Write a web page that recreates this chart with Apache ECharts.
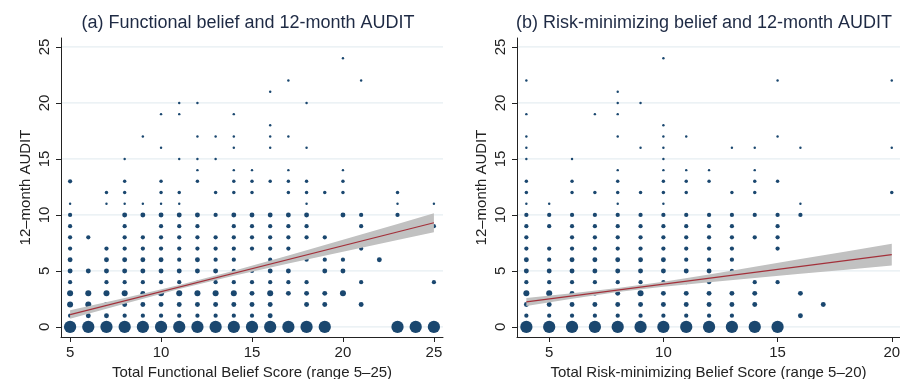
<!DOCTYPE html>
<html>
<head>
<meta charset="utf-8">
<script src="https://cdn.jsdelivr.net/npm/echarts@6/dist/echarts.min.js"></script>
<style>
html,body{margin:0;padding:0;background:#fff;}
#chart{width:900px;height:379px;}
</style>
</head>
<body>
<div id="chart"></div>
<script>
// ---- data: [score, AUDIT, estimated frequency] ----
const functionalPoints = [
 [5,13,3],[5,11,1],[5,10,3],[5,9,3],[5,8,3],[5,7,3],[5,6,4],[5,5,4],[5,4,3],[5,3,6],[5,2,6],[5,1,3],[5,0,25],
 [6,8,3],[6,5,4],[6,3,6],[6,2,6],[6,1,4],[6,0,25],
 [7,12,2],[7,11,1],[7,7,3],[7,6,4],[7,5,4],[7,4,3],[7,3,6],[7,2,4],[7,1,4],[7,0,25],
 [8,15,1],[8,13,2],[8,12,2],[8,11,1],[8,10,4],[8,9,3],[8,8,3],[8,7,3],[8,6,4],[8,5,4],[8,4,3],[8,3,6],[8,2,4],[8,1,3],[8,0,25],
 [9,17,1],[9,11,1],[9,10,4],[9,8,3],[9,7,3],[9,6,4],[9,5,4],[9,4,3],[9,3,4],[9,2,4],[9,1,3],[9,0,25],
 [10,19,1],[10,16,1],[10,13,2],[10,12,2],[10,11,1],[10,10,4],[10,9,3],[10,8,3],[10,7,3],[10,6,4],[10,5,4],[10,4,3],[10,3,6],[10,2,4],[10,1,3],[10,0,25],
 [11,20,1],[11,19,1],[11,15,1],[11,12,2],[11,11,1],[11,10,4],[11,9,3],[11,8,3],[11,7,3],[11,6,3],[11,5,4],[11,4,3],[11,3,6],[11,2,4],[11,1,3],[11,0,25],
 [12,20,1],[12,17,1],[12,15,1],[12,14,1],[12,13,2],[12,10,4],[12,9,3],[12,8,3],[12,7,3],[12,6,4],[12,5,4],[12,4,2],[12,3,6],[12,2,4],[12,1,3],[12,0,25],
 [13,17,1],[13,15,1],[13,12,2],[13,10,3],[13,8,3],[13,7,3],[13,6,3],[13,5,4],[13,4,3],[13,3,6],[13,2,4],[13,1,3],[13,0,25],
 [14,19,1],[14,17,1],[14,16,1],[14,14,1],[14,13,2],[14,12,2],[14,10,4],[14,9,3],[14,8,3],[14,7,3],[14,6,3],[14,5,3],[14,4,3],[14,3,6],[14,2,4],[14,1,3],[14,0,25],
 [15,14,1],[15,13,2],[15,12,2],[15,10,4],[15,9,3],[15,8,3],[15,7,3],[15,5,3],[15,4,3],[15,3,4],[15,2,4],[15,1,3],[15,0,25],
 [16,21,1],[16,18,1],[16,17,1],[16,16,1],[16,13,2],[16,10,4],[16,9,3],[16,8,3],[16,7,3],[16,6,3],[16,5,4],[16,4,3],[16,3,6],[16,2,4],[16,1,4],[16,0,25],
 [17,22,1],[17,17,1],[17,14,1],[17,13,2],[17,12,2],[17,10,4],[17,9,3],[17,8,3],[17,7,3],[17,5,4],[17,4,3],[17,3,4],[17,0,25],
 [18,20,1],[18,16,1],[18,13,2],[18,12,2],[18,11,1],[18,10,4],[18,9,3],[18,8,3],[18,6,3],[18,4,3],[18,3,4],[18,2,4],[18,0,25],
 [19,12,2],[19,8,3],[19,6,3],[19,5,4],[19,3,4],[19,2,4],[19,0,25],
 [20,24,1],[20,14,1],[20,13,2],[20,12,2],[20,10,4],[20,6,3],[20,5,4],[20,3,6],
 [21,22,1],[21,10,3],[21,9,3],[21,7,3],[21,4,3],[21,2,4],
 [22,6,4],
 [23,12,2],[23,11,1],[23,10,3],[23,0,25],
 [24,0,25],
 [25,11,1],[25,9,3],[25,4,3],[25,0,25]
];
const riskPoints = [
 [4,22,1],[4,19,1],[4,17,1],[4,16,1],[4,15,1],[4,13,2],[4,12,2],[4,11,1],[4,10,3],[4,9,3],[4,8,3],[4,7,3],[4,6,4],[4,5,4],[4,4,3],[4,3,6],[4,2,4],[4,1,3],[4,0,25],
 [5,11,1],[5,10,3],[5,9,3],[5,7,3],[5,6,3],[5,5,4],[5,4,3],[5,3,6],[5,2,4],[5,1,3],[5,0,25],
 [6,15,1],[6,13,2],[6,12,2],[6,10,3],[6,9,3],[6,8,3],[6,7,3],[6,6,4],[6,5,4],[6,4,3],[6,3,4],[6,2,4],[6,1,3],[6,0,25],
 [7,19,1],[7,12,2],[7,10,3],[7,9,3],[7,8,3],[7,7,3],[7,6,4],[7,5,4],[7,4,3],[7,3,4],[7,2,4],[7,1,3],[7,0,25],
 [8,21,1],[8,20,1],[8,19,1],[8,17,1],[8,14,1],[8,13,2],[8,12,2],[8,11,1],[8,10,3],[8,9,3],[8,8,3],[8,7,3],[8,6,4],[8,5,4],[8,4,3],[8,3,4],[8,2,4],[8,1,3],[8,0,25],
 [9,20,1],[9,16,1],[9,12,2],[9,10,3],[9,9,3],[9,8,3],[9,7,3],[9,6,4],[9,5,4],[9,4,3],[9,3,6],[9,2,4],[9,1,3],[9,0,25],
 [10,24,1],[10,18,1],[10,17,1],[10,16,1],[10,15,1],[10,14,1],[10,13,2],[10,12,2],[10,11,1],[10,10,3],[10,9,3],[10,8,3],[10,7,3],[10,6,4],[10,5,4],[10,4,3],[10,3,4],[10,2,4],[10,1,3],[10,0,25],
 [11,17,1],[11,14,1],[11,13,2],[11,12,2],[11,10,3],[11,9,3],[11,8,3],[11,7,3],[11,6,3],[11,5,4],[11,4,3],[11,3,4],[11,2,4],[11,1,3],[11,0,25],
 [12,14,1],[12,13,2],[12,10,3],[12,9,3],[12,8,3],[12,7,3],[12,6,3],[12,5,4],[12,4,3],[12,3,4],[12,2,4],[12,1,3],[12,0,25],
 [13,16,1],[13,12,2],[13,10,3],[13,9,3],[13,8,3],[13,7,3],[13,6,3],[13,5,3],[13,3,4],[13,2,4],[13,1,3],[13,0,25],
 [14,16,1],[14,14,1],[14,13,2],[14,12,2],[14,10,3],[14,8,3],[14,4,3],[14,3,4],[14,2,4],[14,0,25],
 [15,22,1],[15,17,1],[15,13,2],[15,10,3],[15,9,3],[15,8,3],[15,7,3],[15,4,3],[15,0,25],
 [16,16,1],[16,11,1],[16,10,3],[16,3,4],[16,1,4],
 [17,2,4],
 [20,22,1],[20,16,1],[20,12,2]
];
// linear fit endpoints and 95% CI band
const funcFitX = [5, 25];
const funcFitY = [1.1, 9.3];
const funcBandX  = [5, 8, 11, 14, 17, 20, 23, 25];
const funcBandLo = [0.72, 2.08, 3.38, 4.57, 5.66, 6.72, 7.76, 8.45];
const funcBandHi = [1.48, 2.58, 3.74, 5.01, 6.38, 7.78, 9.2, 10.15];
const riskFitX = [4, 20];
const riskFitY = [2.23, 6.45];
const riskBandX  = [4, 6, 8, 10, 12, 14, 16, 18, 20];
const riskBandLo = [1.87, 2.51, 3.11, 3.58, 3.99, 4.37, 4.74, 5.1, 5.48];
const riskBandHi = [2.59, 3.01, 3.47, 4.04, 4.69, 5.37, 6.06, 6.74, 7.42];
const yTicks = [0, 5, 10, 15, 20, 25];
const funcXTicks = [5, 10, 15, 20, 25];
const riskXTicks = [5, 10, 15, 20];
const titles = ['(a) Functional belief and 12-month AUDIT', '(b) Risk-minimizing belief and 12-month AUDIT'];
const xTitles = ['Total Functional Belief Score (range 5–25)', 'Total Risk-minimizing Belief Score (range 5–20)'];
const yTitle = '12–month AUDIT';

// ---- styling ----
const FONT = 'Liberation Sans, Arial, sans-serif';
const DOT = '#1a476f';
const AXIS = '#222';
const GRIDC = '#e6eef2';

const chart = echarts.init(document.getElementById('chart'), null, {renderer: 'canvas'});

function xAxisDef(idx, min, max, ticks, name) {
  return {
    type: 'value', gridIndex: idx, min: min, max: max,
    name: name, nameLocation: 'middle', nameGap: 21,
    nameTextStyle: {fontFamily: FONT, fontSize: 15, color: AXIS},
    axisLine: {show: true, onZero: false, lineStyle: {color: AXIS, width: 1}},
    axisTick: {show: true, length: 5, customValues: ticks, lineStyle: {color: AXIS}},
    axisLabel: {customValues: ticks, fontFamily: FONT, fontSize: 15, color: AXIS, margin: 8},
    splitLine: {show: false}
  };
}
function yAxisDef(idx) {
  return {
    type: 'value', gridIndex: idx, min: -0.9, max: 25.8,
    name: yTitle, nameLocation: 'middle', nameGap: 28, nameRotate: 90,
    nameTextStyle: {fontFamily: FONT, fontSize: 15, color: AXIS},
    axisLine: {show: true, onZero: false, lineStyle: {color: AXIS, width: 1}},
    axisTick: {show: true, length: 5, customValues: yTicks, lineStyle: {color: AXIS}},
    axisLabel: {customValues: yTicks, rotate: 90, fontFamily: FONT, fontSize: 15, color: AXIS, margin: 9},
    splitLine: {show: false}
  };
}
function gridLines(idx) {
  return {
    type: 'custom', xAxisIndex: idx, yAxisIndex: idx, silent: true, z: 0,
    data: yTicks.map(v => [0, v]),
    renderItem: function (params, api) {
      const cs = params.coordSys;
      const y = api.coord([0, api.value(1)])[1];
      return {type: 'line', shape: {x1: cs.x, y1: y, x2: cs.x + cs.width, y2: y},
              style: {stroke: GRIDC, lineWidth: 1.2}};
    }
  };
}
function scatter(idx, pts) {
  return {
    type: 'scatter', xAxisIndex: idx, yAxisIndex: idx, silent: true, z: 2,
    data: pts, symbol: 'circle',
    symbolSize: v => 2.45 * Math.sqrt(v[2]),
    itemStyle: {color: DOT, opacity: 1}
  };
}
function band(idx, bx, lo, hi) {
  return {
    type: 'custom', xAxisIndex: idx, yAxisIndex: idx, silent: true, z: 3,
    data: [[bx[0], lo[0]]],
    renderItem: function (params, api) {
      const pts = [];
      for (let i = 0; i < bx.length; i++) pts.push(api.coord([bx[i], hi[i]]));
      for (let i = bx.length - 1; i >= 0; i--) pts.push(api.coord([bx[i], lo[i]]));
      return {type: 'polygon', shape: {points: pts}, style: {fill: '#c1c1c1'}};
    }
  };
}
function fitLine(idx, fx, fy) {
  return {
    type: 'line', xAxisIndex: idx, yAxisIndex: idx, silent: true, z: 4,
    data: fx.map((x, i) => [x, fy[i]]), showSymbol: false, symbol: 'none',
    lineStyle: {color: '#a3303a', width: 1.2}
  };
}

const option = {
  animation: false,
  backgroundColor: '#ffffff',
  grid: [
    {left: 61, top: 38, width: 382, height: 299, containLabel: false, outerBoundsMode: 'none'},
    {left: 517, top: 38, width: 383, height: 299, containLabel: false, outerBoundsMode: 'none'}
  ],
  xAxis: [
    xAxisDef(0, 4.5, 25.5, funcXTicks, xTitles[0]),
    xAxisDef(1, 3.59, 20.36, riskXTicks, xTitles[1])
  ],
  yAxis: [yAxisDef(0), yAxisDef(1)],
  graphic: [
    {type: 'text', x: 248, y: 23.5, style: {text: titles[0], font: '18px ' + FONT, fill: '#1e2a44', textAlign: 'center', textVerticalAlign: 'middle'}},
    {type: 'text', x: 704, y: 23.5, style: {text: titles[1], font: '18px ' + FONT, fill: '#1e2a44', textAlign: 'center', textVerticalAlign: 'middle'}}
  ],
  series: [
    gridLines(0), gridLines(1),
    scatter(0, functionalPoints), scatter(1, riskPoints),
    band(0, funcBandX, funcBandLo, funcBandHi), band(1, riskBandX, riskBandLo, riskBandHi),
    fitLine(0, funcFitX, funcFitY), fitLine(1, riskFitX, riskFitY)
  ]
};
chart.setOption(option);
</script>
</body>
</html>
